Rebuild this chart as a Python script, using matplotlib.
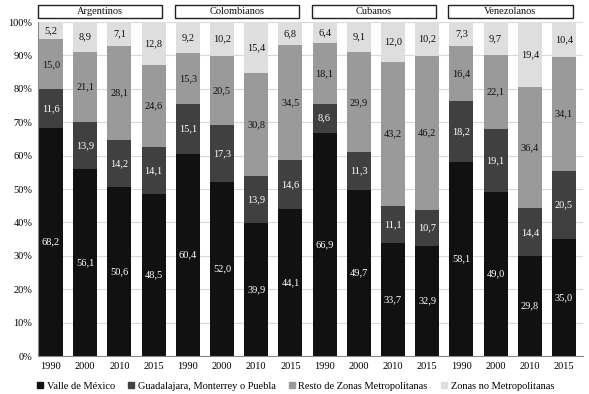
import matplotlib.pyplot as plt
from matplotlib.patches import Rectangle
from matplotlib.lines import Line2D
import matplotlib.transforms as mtransforms

plt.rcParams['font.family'] = ['Liberation Serif', 'DejaVu Serif']

grupos = ["Argentinos", "Colombianos", "Cubanos", "Venezolanos"]
anios = ["1990", "2000", "2010", "2015"]
series = ["Valle de México", "Guadalajara, Monterrey o Puebla",
          "Resto de Zonas Metropolitanas", "Zonas no Metropolitanas"]

# one list per series, 16 bars (4 groups x 4 years)
valle = [68.2, 56.1, 50.6, 48.5, 60.4, 52.0, 39.9, 44.1,
         66.9, 49.7, 33.7, 32.9, 58.1, 49.0, 29.8, 35.0]
gmp = [11.6, 13.9, 14.2, 14.1, 15.1, 17.3, 13.9, 14.6,
       8.6, 11.3, 11.1, 10.7, 18.2, 19.1, 14.4, 20.5]
resto = [15.0, 21.1, 28.1, 24.6, 15.3, 20.5, 30.8, 34.5,
         18.1, 29.9, 43.2, 46.2, 16.4, 22.1, 36.4, 34.1]
no_metro = [5.2, 8.9, 7.1, 12.8, 9.2, 10.2, 15.4, 6.8,
            6.4, 9.1, 12.0, 10.2, 7.3, 9.7, 19.4, 10.4]

colores = ["#111111", "#404040", "#9a9a9a", "#dedede"]
col_texto = ["white", "white", "#111111", "#111111"]

fig = plt.figure(figsize=(5.89, 3.94), dpi=100)
ax = fig.add_axes([0.0645, 0.0964, 0.925, 0.8477])

x = list(range(16))
base = [0.0] * 16
for vals, c, tc, nombre in zip([valle, gmp, resto, no_metro], colores, col_texto, series):
    ax.bar(x, vals, bottom=base, width=0.7, color=c, label=nombre, zorder=2)
    for i, v in enumerate(vals):
        ax.text(x[i], base[i] + v / 2, f"{v:.1f}".replace(".", ","),
                ha="center", va="center", fontsize=7.5, color=tc, zorder=3)
    base = [b + v for b, v in zip(base, vals)]

ax.set_xlim(-0.38, 15.55)
ax.set_ylim(0, 100)
ax.set_yticks(range(0, 101, 10))
ax.set_yticklabels([f"{t}%" for t in range(0, 101, 10)], fontsize=7.5)
ax.set_xticks(x)
ax.set_xticklabels(anios * 4, fontsize=7.5)
ax.tick_params(length=0, pad=4)
ax.yaxis.grid(True, color="#d9d9d9", linewidth=0.8, zorder=0)
ax.set_axisbelow(True)
for s in ["top", "right"]:
    ax.spines[s].set_visible(False)
ax.spines["left"].set_color("#888888")
ax.spines["bottom"].set_color("#888888")

# group title boxes
trans = mtransforms.blended_transform_factory(ax.transData, ax.transAxes)
for g, nombre in enumerate(grupos):
    x0 = 4 * g - 0.38
    ax.add_patch(Rectangle((x0, 1.012), 3.63, 0.039, transform=trans,
                           facecolor="white", edgecolor="#222222",
                           linewidth=1.0, clip_on=False))
    ax.text(x0 + 3.63 / 2, 1.0315, nombre, transform=trans, ha="center",
            va="center", fontsize=7.5, color="#111111")

handles = [Line2D([0], [0], marker="s", linestyle="none", markersize=4.5,
                  markerfacecolor=c, markeredgecolor=c) for c in colores]
fig.legend(handles, series, loc="center", bbox_to_anchor=(0.5, 0.02), ncol=4,
           frameon=False, fontsize=7.5, handletextpad=0.1, columnspacing=1.1,
           handlelength=1.0)

fig.savefig("out.png", dpi=100)
